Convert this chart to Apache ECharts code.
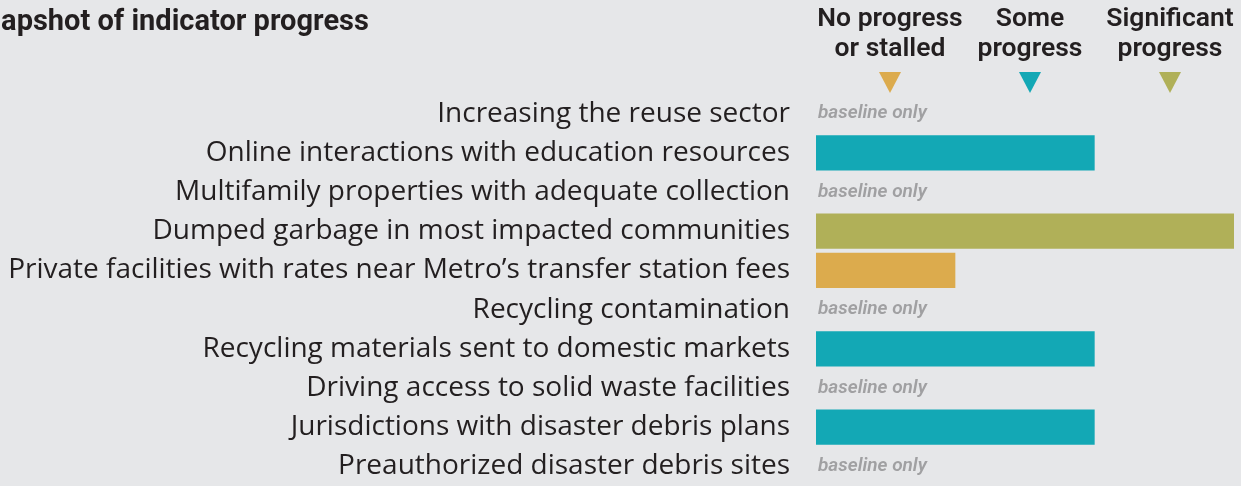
<!DOCTYPE html>
<html>
<head>
<meta charset="utf-8">
<script src="https://cdn.jsdelivr.net/npm/echarts@6/dist/echarts.min.js"></script>
<style>
  html, body { margin: 0; padding: 0; background: #e6e7e9; }
  #main { width: 1241px; height: 486px; }
</style>
</head>
<body>
<div id="main"></div>
<script>
// indicators, top to bottom
var indicators = [
    'Increasing the reuse sector',
    'Online interactions with education resources',
    'Multifamily properties with adequate collection',
    'Dumped garbage in most impacted communities',
    'Private facilities with rates near Metro\u2019s transfer station fees',
    'Recycling contamination',
    'Recycling materials sent to domestic markets',
    'Driving access to solid waste facilities',
    'Jurisdictions with disaster debris plans',
    'Preauthorized disaster debris sites'
];
// 0 = baseline only, 1 = no progress, 2 = some, 3 = significant
var progress = [0, 2, 0, 3, 1, 0, 2, 0, 2, 0];
var levelNames = ['No progress\nor stalled', 'Some\nprogress', 'Significant\nprogress'];
var levelColors = ['#dcab4d', '#13a8b5', '#b0b058'];

var chart = echarts.init(document.getElementById('main'));

var barData = progress.map(function (v) {
    return {
        value: v,
        itemStyle: { color: v > 0 ? levelColors[v - 1] : 'transparent' },
        label: { show: v === 0 }
    };
});

// legend drawn as text + down triangles
var legendX = [890, 1030, 1170];
var graphics = [];
levelNames.forEach(function (name, i) {
    graphics.push({
        type: 'text',
        x: legendX[i], y: 4,
        style: {
            text: name, fill: '#231f20',
            font: '600 26.5px Roboto', align: 'center', verticalAlign: 'top',
            lineHeight: 30
        }
    });
    graphics.push({
        type: 'polygon',
        shape: { points: [[legendX[i] - 11, 72], [legendX[i] + 11, 72], [legendX[i], 93]] },
        style: { fill: levelColors[i] }
    });
});

var option = {
    backgroundColor: '#e6e7e9',
    animation: false,
    title: {
        text: 'Snapshot of indicator progress',
        left: -38, top: 3,
        textStyle: { fontFamily: 'Roboto', fontWeight: 'bold', fontSize: 29, color: '#231f20' }
    },
    graphic: graphics,
    grid: { left: 816, right: 7, top: 94, height: 397 },
    xAxis: { type: 'value', min: 0, max: 3, show: false },
    yAxis: {
        type: 'category',
        inverse: true,
        data: indicators,
        axisLine: { show: false },
        axisTick: { show: false },
        axisLabel: {
            margin: 26,
            fontFamily: 'Open Sans', fontSize: 28, color: '#231f20'
        }
    },
    series: [{
        type: 'bar',
        data: barData,
        barCategoryGap: '10%',
        label: {
            position: 'right',
            distance: 2,
            formatter: 'baseline only',
            fontFamily: 'Roboto', fontStyle: 'italic', fontWeight: 600,
            fontSize: 19, color: '#a0a0a2'
        }
    }]
};
chart.setOption(option);
</script>
</body>
</html>
